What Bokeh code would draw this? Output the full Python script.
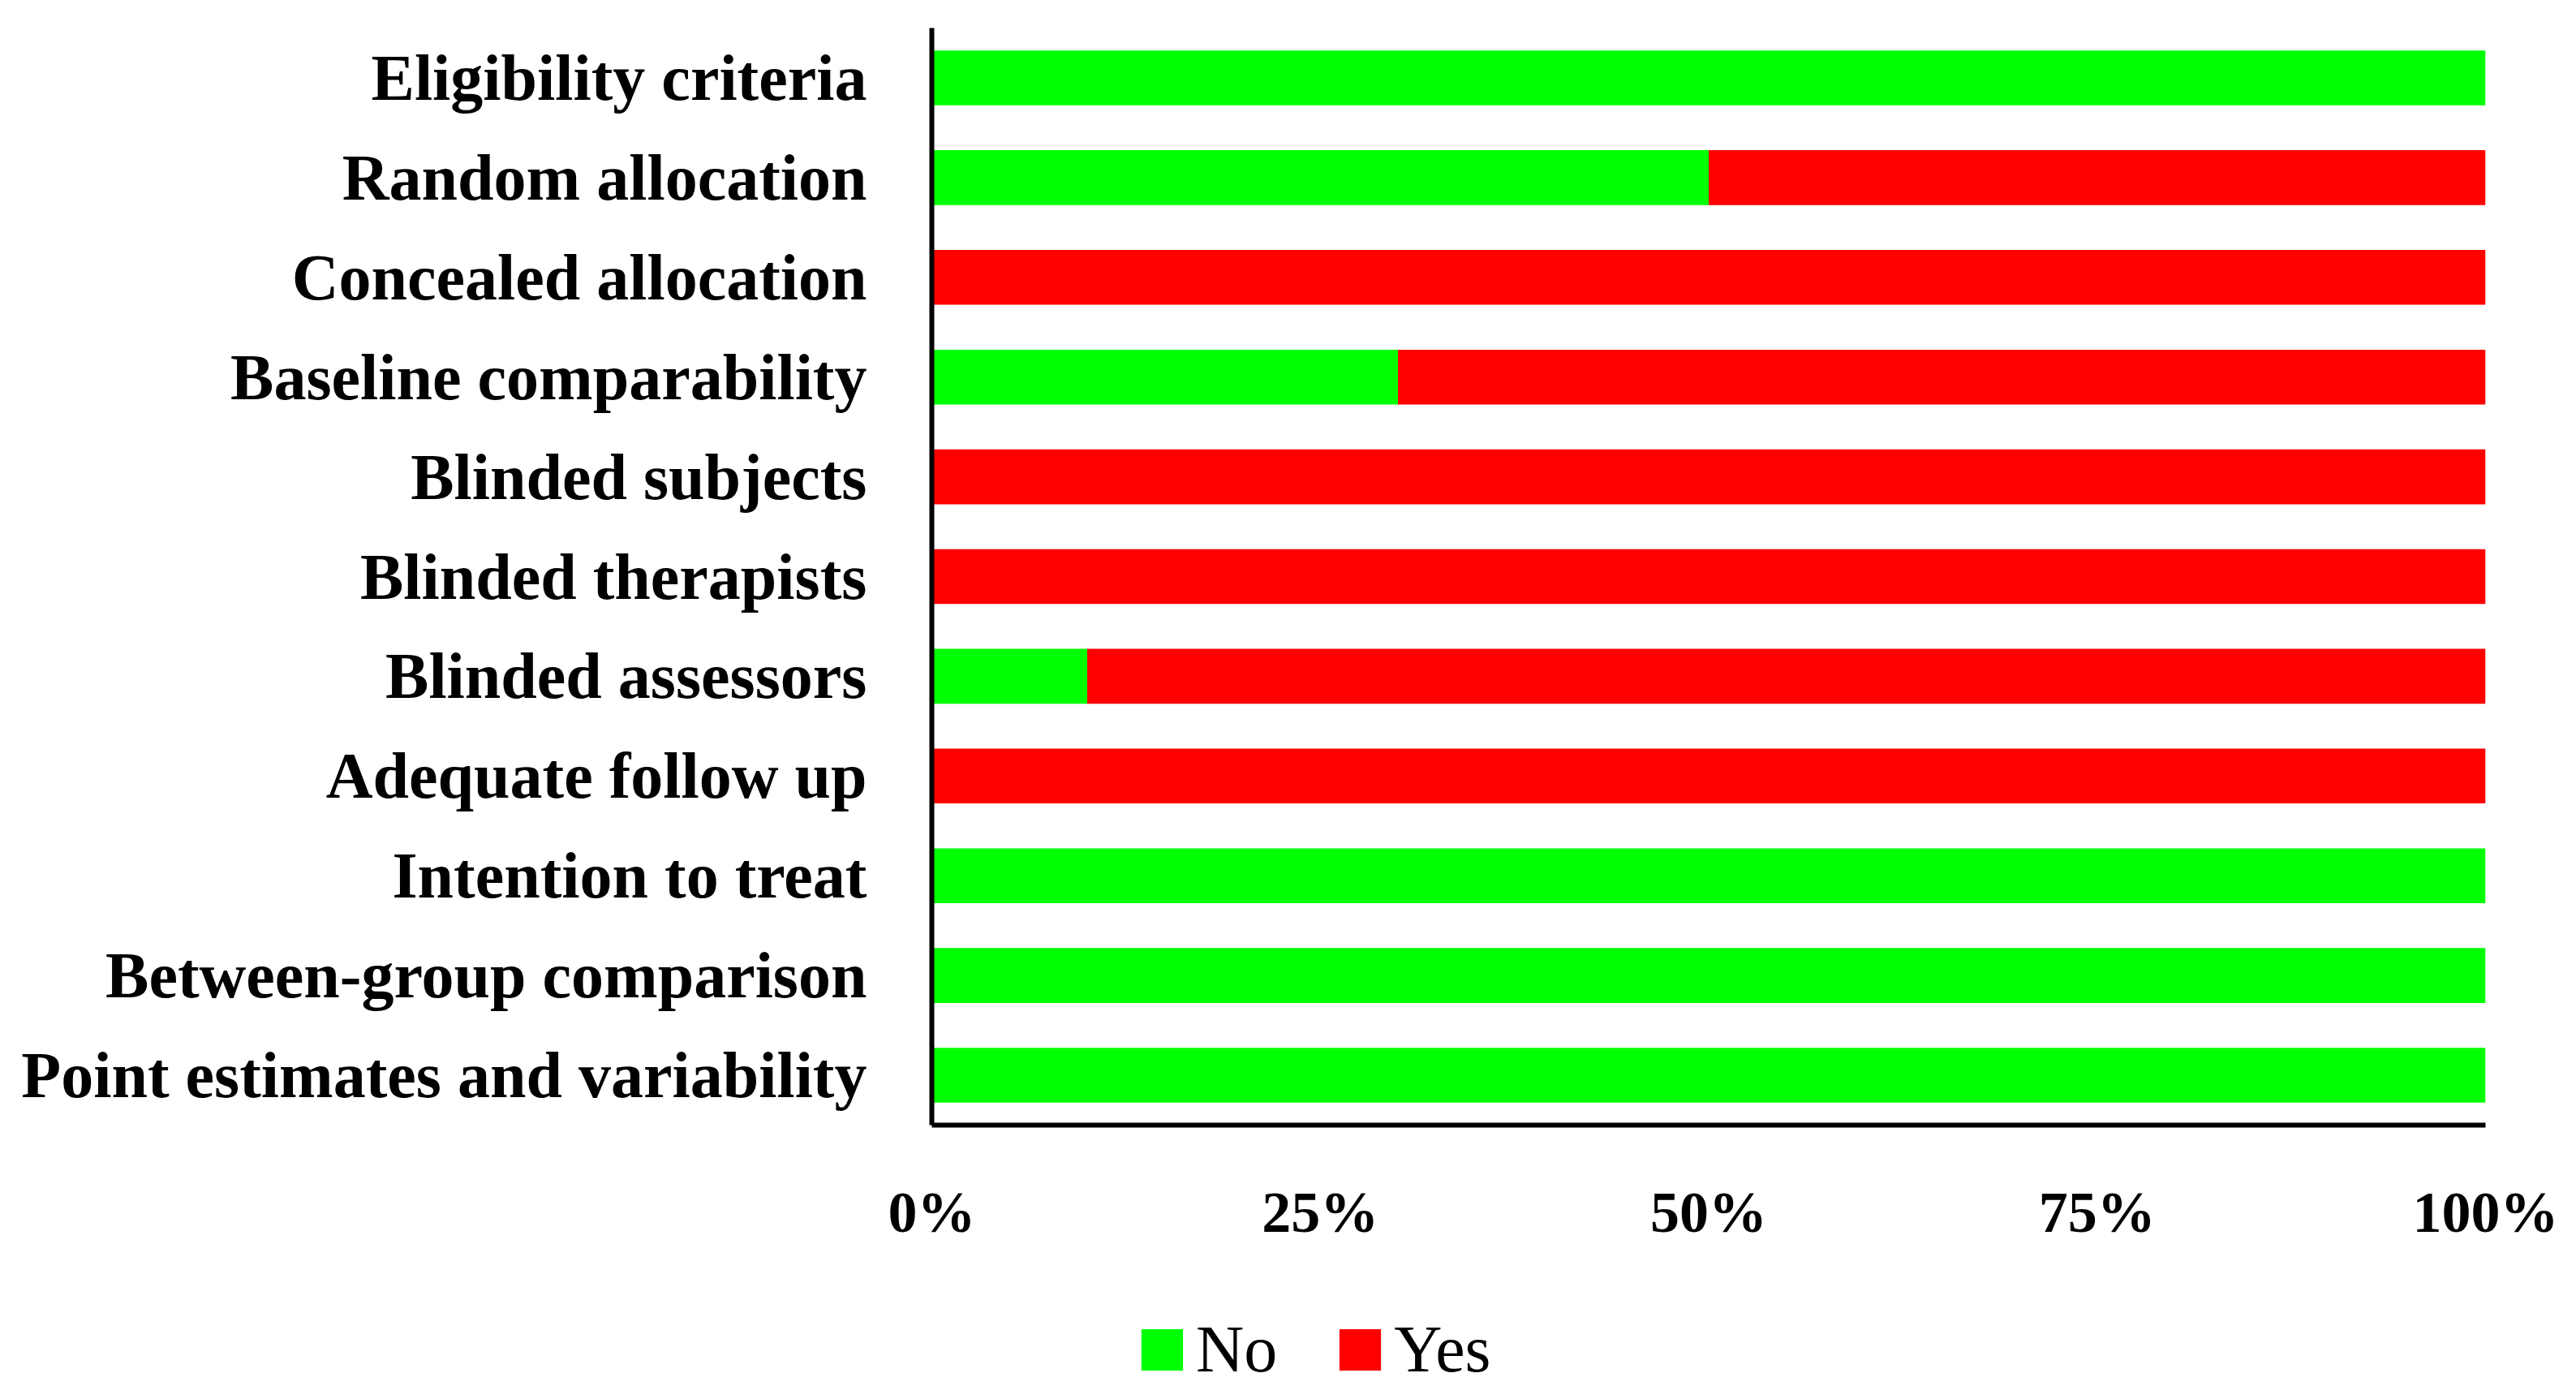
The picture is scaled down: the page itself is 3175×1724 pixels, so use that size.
from bokeh.plotting import figure
from bokeh.layouts import column
from bokeh.models import FactorRange, Range1d, FixedTicker, Legend, LegendItem
from bokeh.embed import file_html
from bokeh.resources import INLINE

categories = [
    "Eligibility criteria",
    "Random allocation",
    "Concealed allocation",
    "Baseline comparability",
    "Blinded subjects",
    "Blinded therapists",
    "Blinded assessors",
    "Adequate follow up",
    "Intention to treat",
    "Between-group comparison",
    "Point estimates and variability",
]
no_pct = [100, 50, 0, 30, 0, 0, 10, 0, 100, 100, 100]
yes_pct = [0, 50, 100, 70, 100, 100, 90, 100, 0, 0, 0]
series = ["No", "Yes"]
tick_values = [0, 25, 50, 75, 100]
tick_labels = ["0%", "25%", "50%", "75%", "100%"]

GREEN = "#00FF00"
RED = "#FF0000"
FONT = "Liberation Serif"

W = 3159
H_MAIN = 1560
H_LEG = 148

p = figure(
    width=W, height=H_MAIN,
    y_range=FactorRange(factors=list(reversed(categories))),
    x_range=Range1d(0, 100),
    output_backend="svg", toolbar_location=None, tools="",
    min_border_left=1148, min_border_right=96,
    min_border_top=34, min_border_bottom=H_MAIN - 1386,
)
p.outline_line_color = None
p.grid.visible = False
p.background_fill_color = "white"
p.border_fill_color = "white"

src = dict(cat=categories, No=no_pct, Yes=yes_pct)
r = p.hbar_stack(series, y="cat", height=0.55, color=[GREEN, RED],
                 line_color=None, source=src)

# axes
p.xaxis.ticker = FixedTicker(ticks=tick_values)
p.xaxis.major_label_overrides = {v: l for v, l in zip(tick_values, tick_labels)}
p.xaxis.major_tick_line_color = None
p.xaxis.minor_tick_line_color = None
p.xaxis.axis_line_width = 6
p.xaxis.axis_line_color = "black"
p.xaxis.major_label_text_font = FONT
p.xaxis.major_label_text_font_style = "bold"
p.xaxis.major_label_text_font_size = "72px"
p.xaxis.major_label_text_color = "black"
p.xaxis.major_label_standoff = 61

p.yaxis.major_tick_line_color = None
p.yaxis.minor_tick_line_color = None
p.yaxis.axis_line_width = 6
p.yaxis.axis_line_color = "black"
p.yaxis.major_label_text_font = FONT
p.yaxis.major_label_text_font_style = "bold"
p.yaxis.major_label_text_font_size = "80px"
p.yaxis.major_label_text_color = "black"
p.yaxis.major_label_standoff = 74

# legend strip below the chart (its frame is aligned with the chart's frame)
lf = figure(
    width=W, height=H_LEG,
    x_range=Range1d(0, 1), y_range=Range1d(0, 1),
    x_axis_type=None, y_axis_type=None,
    output_backend="svg", toolbar_location=None, tools="",
    min_border=0,
)
lf.outline_line_color = None
lf.grid.visible = False
lf.background_fill_color = "white"
lf.border_fill_color = "white"
# zero-size proxy glyphs, only used for the legend swatches
g_no = lf.hbar(y=[0], left=[0], right=[0], height=0, color=GREEN, line_color=None)
g_yes = lf.hbar(y=[0], left=[0], right=[0], height=0, color=RED, line_color=None)

legend = Legend(
    items=[LegendItem(label=series[0], renderers=[g_no]),
           LegendItem(label=series[1], renderers=[g_yes])],
    orientation="horizontal",
    location=(252, -2),
    glyph_width=64, glyph_height=64,
    label_text_font=FONT, label_text_font_size="82px",
    label_text_color="black",
    label_standoff=10, spacing=70,
    padding=0, margin=0,
    border_line_color=None, background_fill_alpha=0,
)
lf.add_layout(legend, "center")

layout = column(p, lf, spacing=0)
open("out.html", "w").write(file_html(layout, INLINE))
